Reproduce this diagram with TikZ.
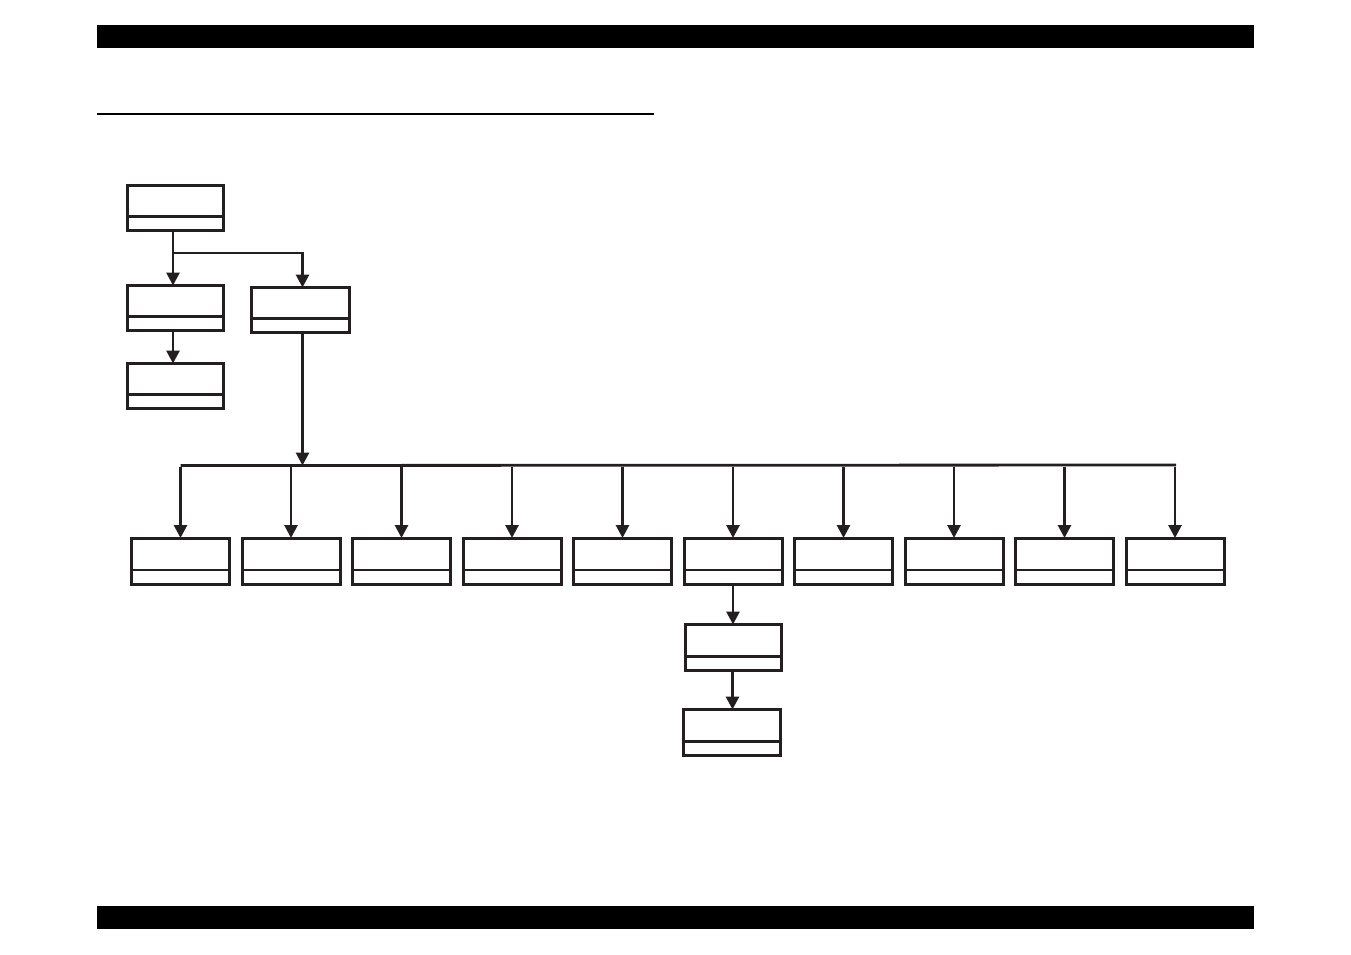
\documentclass[tikz,border=0pt]{standalone}
\usetikzlibrary{arrows.meta}
\definecolor{ink}{RGB}{35,31,32}
\begin{document}
\begin{tikzpicture}[x=1pt,y=-1pt,
  box/.style={draw=ink,line width=3pt,rectangle,inner sep=0pt,outer sep=0pt,
    minimum width=96pt,minimum height=45pt,anchor=north west,
    path picture={\draw[ink,line width=2.8pt]
      ([yshift=14pt]path picture bounding box.south west) --
      ([yshift=14pt]path picture bounding box.south east);}},
  conn/.style={draw=ink,line width=2.8pt},
  arr/.style={conn,-{Triangle[width=13pt,length=13pt]}}]
\useasboundingbox (0,0) rectangle (1351,954);
% page bars and rule
\fill[black] (97,25) rectangle (1254,48);
\fill[black] (97,906) rectangle (1254,929);
\draw[black,line width=1.4pt] (97,114) -- (654,114);
% upper boxes
\node[box] (A) at (127.5,185.5) {};
\node[box] (B) at (127.5,285.5) {};
\node[box] (C) at (127.5,363.5) {};
\node[box,minimum width=98pt] (D) at (251.5,287.5) {};
% row boxes
\foreach \i in {0,...,9}{
  \node[box,minimum width=98pt,minimum height=46pt] (r\i) at (131.5+110.5*\i,538) {};
}
\node[box,minimum height=46pt] (E) at (685.5,624.5) {};
\node[box,minimum width=97pt,minimum height=46pt] (F) at (683.5,709.5) {};
% connectors
\coordinate (j1) at (172,253);
\coordinate (busL) at (180.5,465.5);
\coordinate (busR) at (1176,465);
\draw[arr] ([xshift=-2.5pt]A.south) -- ([xshift=-2.5pt]B.north);
\draw[arr] (j1) -| ([xshift=2pt]D.north);
\draw[arr] ([xshift=-2.5pt]B.south) -- ([xshift=-2.5pt]C.north);
\draw[conn] (busL) -- (busR);
\draw[arr] ([xshift=2pt]D.south) -- ([xshift=2pt]D.south |- busL);
\foreach \i in {0,...,9}{
  \draw[arr] ([yshift=-1.5pt]r\i.north |- busL) -- (r\i.north);
}
\draw[arr] (r5.south) -- (r5.south |- E.north);
\draw[arr] ([xshift=-1pt]E.south) -- ([xshift=-1pt]E.south |- F.north);
\end{tikzpicture}
\end{document}
